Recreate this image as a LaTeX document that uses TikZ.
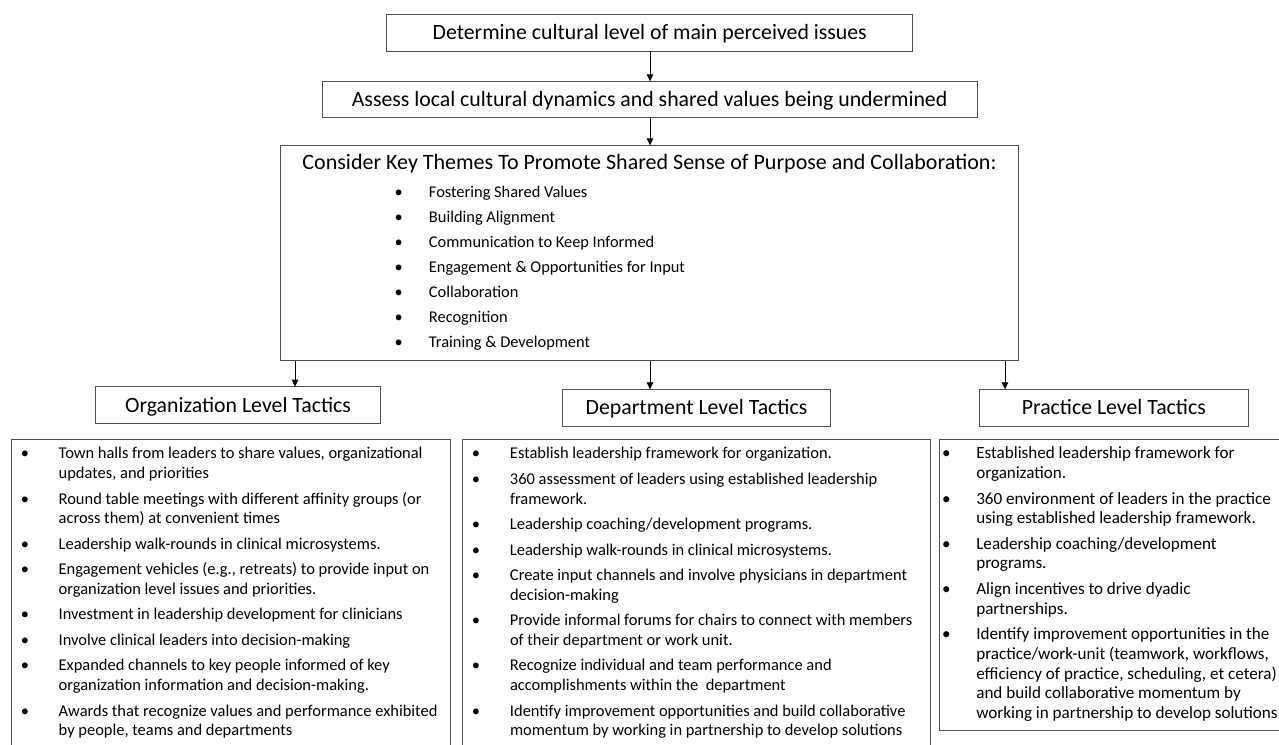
\documentclass[tikz,border=0pt]{standalone}
\usepackage{fontspec}
\setmainfont{Carlito}
\usetikzlibrary{arrows.meta}
\definecolor{boxc}{HTML}{505050}
\newlength{\bulx}\newlength{\txtx}
\newcommand{\bitem}[1]{\par\hangindent=\txtx\hangafter=1\noindent\rule{0pt}{13pt}\makebox[\txtx][l]{\hspace*{\bulx}\makebox[0pt]{\textbullet}}#1}
\newcommand{\blist}[6]{\parbox[t]{#1}{\setlength{\bulx}{#2}\setlength{\txtx}{#3}\fontsize{#4}{#5}\selectfont\setlength{\parskip}{5.8pt}\setlength{\parindent}{0pt}\hyphenpenalty=10000 \let\\\newline #6}}
\tikzset{
  tbox/.style={draw=boxc, line width=0.9pt, inner sep=0pt, outer sep=0pt, text height=18pt, text depth=4pt, font=\fontsize{21.8}{26}\selectfont},
  lbox/.style={draw=boxc, line width=0.9pt, inner sep=0pt, outer sep=0pt},
  ltext/.style={inner sep=0pt, outer sep=0pt, anchor=north west},
  arr/.style={draw=black, line width=0.8pt, -{Triangle[length=7pt,width=6.5pt]}}
}
\begin{document}
\begin{tikzpicture}[x=1pt,y=-1pt]
\useasboundingbox (0,0) rectangle (1279,744);
\clip (0,0) rectangle (1279,744);
% top boxes
\node[tbox, minimum width=526pt, minimum height=36.3pt] (b1) at (649.7,32.85) {Determine cultural level of main perceived issues};
\node[tbox, minimum width=655.3pt, minimum height=36.4pt] (b2) at (649.65,99.5) {Assess local cultural dynamics and shared values being undermined};
\node[lbox, minimum width=737.6pt, minimum height=215.4pt] (b3) at (649.5,253) {};
\node[inner sep=0pt, font=\fontsize{22}{26}\selectfont] (b3h) at (649.5,164) {Consider Key Themes To Promote Shared Sense of Purpose and Collaboration:};
\node[ltext] (themes) at (280.7,184) {\blist{600pt}{118pt}{148.3pt}{16.4}{25}{%
\setlength{\parskip}{0pt}%
\bitem{Fostering Shared Values}
\bitem{Building Alignment}
\bitem{Communication to Keep Informed}
\bitem{Engagement \& Opportunities for Input}
\bitem{Collaboration}
\bitem{Recognition}
\bitem{Training \& Development}}};
% level boxes
\node[tbox, minimum width=285.4pt, minimum height=36.6pt] (org) at (238,405) {Organization Level Tactics};
\node[tbox, minimum width=268.4pt, minimum height=36.7pt] (dept) at (696.5,407.65) {Department Level Tactics};
\node[tbox, minimum width=269pt, minimum height=36.7pt] (prac) at (1113.8,407.65) {Practice Level Tactics};
% arrows
\coordinate (xa) at (295,0);
\coordinate (xb) at (650,0);
\coordinate (xc) at (1005,0);
\draw[arr] (xb |- b1.south) -- (xb |- b2.north);
\draw[arr] (xb |- b2.south) -- (xb |- b3.north);
\draw[arr] (xa |- b3.south) -- (xa |- org.north);
\draw[arr] (xb |- b3.south) -- (xb |- dept.north);
\draw[arr] (xc |- b3.south) -- (xc |- prac.north);
% list boxes
\node[lbox, minimum width=438.3pt, minimum height=321pt] (orgl) at (230.85,599.5) {};
\node[lbox, minimum width=468.4pt, minimum height=321pt] (deptl) at (696.5,599.5) {};
\node[lbox, minimum width=350.7pt, minimum height=291pt] (pracl) at (1114.65,584.5) {};
\node[ltext] (orgt) at (11.7,445.8) {\blist{438pt}{13.3pt}{47pt}{16.45}{19.7}{%
\bitem{Town halls from leaders to share values, organizational\\ updates, and priorities}
\bitem{Round table meetings with different affinity groups (or\\ across them) at convenient times}
\bitem{Leadership walk-rounds in clinical microsystems.}
\bitem{Engagement vehicles (e.g., retreats) to provide input on\\ organization level issues and priorities.}
\bitem{Investment in leadership development for clinicians}
\bitem{Involve clinical leaders into decision-making}
\bitem{Expanded channels to key people informed of key\\ organization information and decision-making.}
\bitem{Awards that recognize values and performance exhibited\\ by people, teams and departments}}};
\node[ltext] (deptt) at (462.3,445.8) {\blist{468pt}{13.7pt}{47.7pt}{16.45}{19.7}{%
\bitem{Establish leadership framework for organization.}
\bitem{360 assessment of leaders using established leadership\\ framework.}
\bitem{Leadership coaching/development programs.}
\bitem{Leadership walk-rounds in clinical microsystems.}
\bitem{Create input channels and involve physicians in department\\ decision-making}
\bitem{Provide informal forums for chairs to connect with members\\ of their department or work unit.}
\bitem{Recognize individual and team performance and\\ accomplishments within the\ \ department}
\bitem{Identify improvement opportunities and build collaborative\\ momentum by working in partnership to develop solutions}}};
\node[ltext] (pract) at (939.3,445.8) {\blist{345pt}{7pt}{37pt}{17.1}{19.7}{%
\bitem{Established leadership framework for\\ organization.}
\bitem{360 environment of leaders in the practice\\ using established leadership framework.}
\bitem{Leadership coaching/development\\ programs.}
\bitem{Align incentives to drive dyadic\\ partnerships.}
\bitem{Identify improvement opportunities in the\\ practice/work-unit (teamwork, workflows,\\ efficiency of practice, scheduling, et cetera)\\ and build collaborative momentum by\\ working in partnership to develop solutions}}};
\end{tikzpicture}
\end{document}
